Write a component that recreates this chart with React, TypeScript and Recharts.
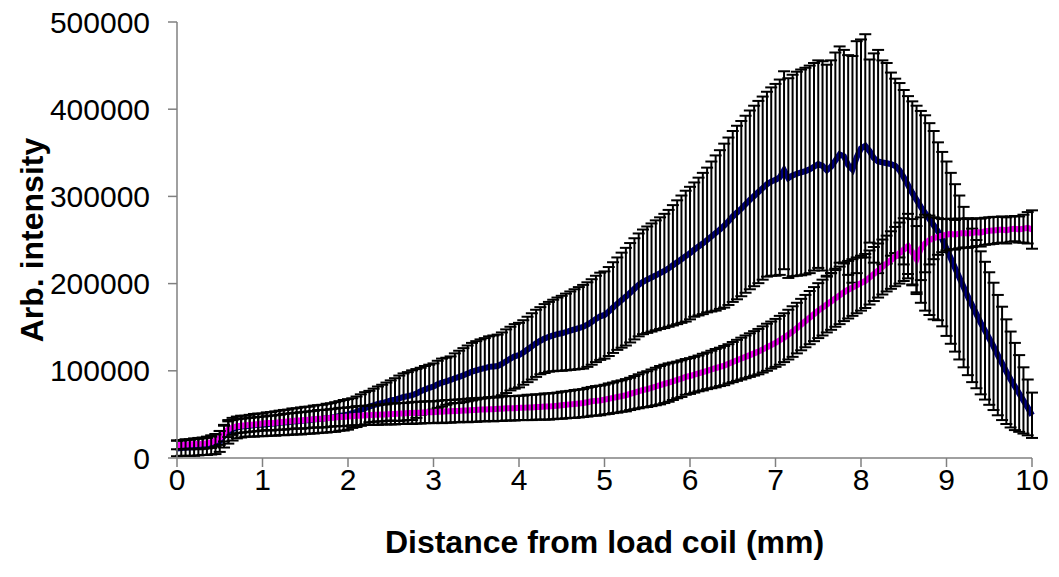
import { ComposedChart, Line, ErrorBar, XAxis, YAxis } from "recharts";

// intensity profiles, sampled every 0.05 mm from 0 to 10 mm
const navyMean = [
  11000, 11500, 12000, 12000, 12500, 13000, 13500, 14000, 15000, 16000, 19000, 25000, 30000, 33000, 35000, 36000, 36500, 37000, 37500, 38000,
  38000, 38800, 39200, 39500, 40300, 40600, 41000, 41800, 42100, 42500, 43200, 43400, 44100, 44600, 45000, 45700, 46300, 47000, 48200, 49000,
  50000, 51500, 53000, 55000, 57000, 59000, 60500, 62000, 63000, 64500, 66000, 67000, 68500, 70000, 71000, 72000, 74000, 76500, 78500, 80500,
  82000, 84500, 86500, 88000, 89500, 91500, 93000, 95000, 97000, 99000, 100500, 102000, 103000, 104500, 105000, 105500, 108000, 111000, 114000, 116500,
  118000, 121000, 124500, 128000, 131500, 134500, 137000, 139000, 140500, 142000, 143000, 144500, 146000, 147500, 149000, 150500, 153000, 156000, 159500, 162500,
  164000, 168000, 172500, 177000, 181000, 185000, 189500, 194000, 198500, 202000, 204500, 207000, 209500, 212000, 214500, 217500, 221000, 224500, 228000, 231500,
  235000, 239000, 242500, 246000, 250000, 254000, 258000, 262000, 266500, 271500, 277000, 281500, 286000, 291000, 296000, 300500, 305000, 309500, 314000, 317000,
  319000, 322000, 330000, 321000, 324000, 326000, 327500, 329000, 331000, 334000, 337000, 335000, 330000, 334000, 341000, 348000, 346000, 336000, 331000, 345000,
  355000, 358000, 352000, 344000, 340000, 339000, 338000, 337000, 335000, 330000, 322000, 313000, 304000, 296000, 288000, 281000, 274000, 267000, 260000, 251000,
  240000, 229000, 218000, 207000, 196000, 185000, 175000, 165000, 155000, 146000, 137000, 128000, 118000, 108500, 99000, 90000, 82000, 74000, 66000, 58000,
  49000,
];

const navyErr = [
  9000, 9000, 9500, 9500, 10000, 10000, 10000, 10500, 11000, 11500, 12000, 13000, 13500, 13000, 12500, 12500, 12000, 12500, 13000, 13000,
  13000, 13500, 13500, 14000, 14000, 14500, 14500, 15000, 15000, 15500, 15500, 15500, 16000, 16000, 16000, 16500, 16500, 17000, 17000, 17500,
  17500, 17000, 17500, 18000, 18500, 18000, 19000, 20000, 21000, 22000, 23000, 24500, 26000, 27000, 27500, 28500, 28000, 27000, 27000, 26500,
  26500, 27000, 27500, 27000, 27000, 28500, 30000, 31000, 32000, 33000, 33500, 34000, 34500, 35000, 35500, 36000, 36000, 36500, 36500, 37000,
  37000, 37000, 37500, 38000, 38500, 38500, 39500, 40000, 41000, 42000, 43000, 44000, 45000, 46000, 47000, 48000, 48500, 49000, 49500, 50000,
  50000, 51000, 52000, 53000, 54500, 56000, 57000, 58000, 59000, 60000, 61000, 62000, 63000, 64000, 65500, 67000, 69000, 71000, 73000, 75000,
  76000, 77000, 79000, 81000, 83000, 86000, 89000, 91000, 94000, 96000, 98000, 99500, 100500, 101500, 102500, 103500, 104500, 105000, 106000, 108000,
  110000, 112000, 113500, 114500, 115500, 117000, 118000, 118500, 119000, 119000, 119000, 120000, 121000, 122000, 124000, 124000, 122000, 126000, 130000, 133000,
  125000, 128000, 105000, 120000, 128000, 117000, 115000, 105000, 100000, 100000, 100000, 102000, 105000, 108000, 110000, 112000, 110000, 108000, 102000, 100000,
  100000, 98000, 96000, 94000, 92000, 90000, 88000, 85000, 82000, 79000, 76000, 73000, 69000, 65000, 60000, 55000, 50000, 44000, 38000, 32000,
  26000,
];

const magentaMean = [
  15000, 15000, 15500, 15500, 16000, 16000, 16500, 17000, 18000, 20000, 23000, 28000, 33000, 35000, 36500, 37000, 37500, 38000, 38500, 39000,
  39500, 40000, 40000, 40500, 41000, 41500, 42000, 42500, 43000, 43000, 43500, 44000, 44500, 45000, 45000, 45500, 46000, 46500, 47000, 47000,
  47500, 48000, 48500, 48500, 49000, 49000, 49500, 49500, 50000, 50000, 50500, 50500, 51000, 51000, 51500, 51500, 52000, 52000, 52500, 52500,
  52500, 53000, 53000, 53500, 53500, 54000, 54000, 54500, 54500, 55000, 55000, 55500, 55500, 56000, 56000, 56500, 56500, 57000, 57000, 57000,
  57500, 57500, 58000, 58000, 58500, 58500, 59000, 59000, 59500, 60000, 60500, 61000, 61500, 62000, 62500, 63000, 64000, 65000, 65500, 66000,
  67000, 68000, 69000, 70000, 71000, 72000, 73500, 75000, 76500, 78000, 79000, 80500, 82000, 83500, 85000, 86500, 88000, 89500, 91000, 93000,
  94000, 95500, 97000, 98500, 100000, 101500, 103000, 104500, 106000, 108000, 110000, 112000, 114000, 116000, 118000, 120000, 122000, 124500, 127000, 129500,
  132000, 135000, 138000, 141500, 145000, 149000, 153000, 157000, 161000, 165000, 169000, 172500, 176000, 179500, 183000, 186500, 190000, 193000, 195500, 198000,
  200500, 203000, 207000, 211000, 215000, 219000, 223000, 227000, 231000, 235000, 239000, 243000, 236000, 228000, 240000, 246000, 250000, 252000, 254000, 255000,
  256000, 257000, 256000, 257500, 258000, 257500, 258000, 259000, 258500, 260000, 260500, 261000, 261500, 262000, 261000, 262500, 263000, 262000, 263000, 264000,
  262000,
];

const magentaErr = [
  5000, 5000, 5000, 5500, 5500, 6000, 6000, 6000, 6500, 7000, 8000, 9000, 9000, 8500, 8000, 8000, 8000, 8000, 8000, 8000,
  8000, 8000, 8500, 8500, 8500, 9000, 9000, 9000, 9000, 9500, 9500, 9500, 9500, 10000, 10000, 10000, 10000, 10000, 10500, 10500,
  10500, 10500, 11000, 11000, 11000, 11000, 11500, 11500, 11500, 11500, 12000, 12000, 12000, 12000, 12000, 12500, 12500, 12500, 12500, 12500,
  12500, 12500, 13000, 13000, 13000, 13000, 13000, 13000, 13500, 13500, 13500, 13500, 13500, 13500, 14000, 14000, 14000, 14000, 14000, 14000,
  14000, 14000, 14500, 14500, 14500, 14500, 15000, 15000, 15000, 15000, 15500, 15500, 15500, 16000, 16000, 16000, 16500, 16500, 17000, 17000,
  17000, 17500, 17500, 18000, 18000, 18500, 18500, 19000, 19500, 20000, 20500, 21000, 21500, 22000, 22000, 22000, 21500, 21000, 21000, 20500,
  20500, 20500, 20500, 21000, 21000, 21500, 22000, 22000, 22500, 22500, 23000, 23500, 24000, 24500, 25000, 25500, 26000, 26500, 27000, 27000,
  27500, 28000, 28000, 28500, 29000, 29000, 29500, 30000, 30500, 31000, 31500, 32000, 32000, 32500, 32500, 33000, 33000, 33000, 32500, 32000,
  31500, 31000, 31000, 31000, 31000, 31500, 32000, 33000, 34000, 35000, 36000, 37000, 38000, 38000, 36000, 33000, 28000, 24000, 21000, 19000,
  18000, 17500, 17000, 17000, 16500, 16500, 16000, 16000, 16000, 15500, 15500, 15500, 15000, 15000, 15000, 14500, 14500, 15000, 16000, 18000,
  22000,
];

const xTicks = [0, 1, 2, 3, 4, 5, 6, 7, 8, 9, 10];
const yTicks = [0, 100000, 200000, 300000, 400000, 500000];

// sampling grid (mm)
const distance = navyMean.map((_, i) => Math.round(i * 5) / 100);

const data = distance.map((d, i) => ({
  distance: d,
  navy: navyMean[i],
  navyErr: navyErr[i],
  magenta: magentaMean[i],
  magentaErr: magentaErr[i],
}));

const font = "'Liberation Sans', Arial, Helvetica, sans-serif";

function YTitle(props: any) {
  const vb = props.viewBox || { x: 0, y: 22, height: 436 };
  const cx = vb.x + 43;
  const cy = vb.y + vb.height / 2;
  return (
    <text
      x={cx}
      y={cy}
      transform={`rotate(-90 ${cx} ${cy})`}
      textAnchor="middle"
      fontFamily={font}
      fontWeight="bold"
      fontSize={32}
      fill="#000"
    >
      Arb. intensity
    </text>
  );
}

const barStyle = { stroke: "#000", strokeWidth: 2 };

export default function App() {
  return (
    <div style={{ width: 1059, height: 577, fontFamily: font, background: "#fff" }}>
      <style>{"body{margin:0}"}</style>
      <ComposedChart
        width={1059}
        height={577}
        data={data}
        margin={{ top: 22, right: 27, left: 0, bottom: 0 }}
      >
        <XAxis
          dataKey="distance"
          type="number"
          domain={[0, 10]}
          ticks={xTicks}
          interval={0}
          height={119}
          stroke="#808080"
          strokeWidth={1.5}
          tickSize={9}
          tickMargin={2}
          tick={{ fill: "#000", fontSize: 30, fontFamily: font }}
          label={{
            value: "Distance from load coil (mm)",
            position: "insideBottom",
            offset: 24,
            style: { fill: "#000", fontSize: 32, fontWeight: "bold", fontFamily: font },
          }}
        />
        <YAxis
          type="number"
          domain={[0, 500000]}
          ticks={yTicks}
          interval={0}
          width={177}
          stroke="#808080"
          strokeWidth={1.5}
          tickSize={9}
          tickMargin={18}
          tick={{ fill: "#000", fontSize: 30, fontFamily: font }}
          label={<YTitle />}
        />
        {/* each series: the line first, then its error bars on top */}
        <Line dataKey="navy" type="linear" stroke="#000080" strokeWidth={6} dot={false} isAnimationActive={false} />
        <Line dataKey="navy" type="linear" stroke="none" dot={false} activeDot={false} isAnimationActive={false}>
          <ErrorBar dataKey="navyErr" direction="y" width={6} stroke="#000" strokeWidth={2} style={barStyle} isAnimationActive={false} />
        </Line>
        <Line dataKey="magenta" type="linear" stroke="#ff00ff" strokeWidth={6} dot={false} isAnimationActive={false} />
        <Line dataKey="magenta" type="linear" stroke="none" dot={false} activeDot={false} isAnimationActive={false}>
          <ErrorBar dataKey="magentaErr" direction="y" width={6} stroke="#000" strokeWidth={2} style={barStyle} isAnimationActive={false} />
        </Line>
      </ComposedChart>
    </div>
  );
}
